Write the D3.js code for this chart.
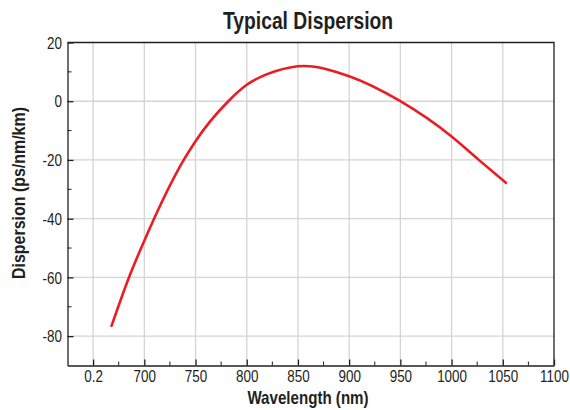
<!DOCTYPE html>
<html>
<head>
<meta charset="utf-8">
<script src="https://cdn.jsdelivr.net/npm/d3@7"></script>
<style>
  body { margin: 0; background: #fff; }
  text { font-family: "Liberation Sans", Arial, sans-serif; fill: #231f20; }
</style>
</head>
<body>
<svg id="chart"></svg>
<script>
// Typical dispersion curve
const wavelength = [668, 685, 700, 738.5, 750, 782, 800, 827, 856, 900, 950, 1000, 1026, 1053];
const dispersion = [-76.5, -60, -47.5, -20, -13.6, 0, 5.6, 10.1, 12, 8.5, 0, -12, -19.8, -27.8];

const xTicks = [650, 700, 750, 800, 850, 900, 950, 1000, 1050, 1100];
const xTickLabels = ["0.2", "700", "750", "800", "850", "900", "950", "1000", "1050", "1100"];
const xMinor = [675, 725, 775, 825, 875, 925, 975, 1025, 1075];
const yTicks = [20, 0, -20, -40, -60, -80];
const yMinor = [10, -10, -30, -50, -70];

const width = 570;
const height = 410;
const margin = { top: 42.5, right: 16, bottom: 44.5, left: 67.5 };
const NARROW = 0.84; // fake a condensed face by squeezing Liberation Sans

const svg = d3.select("#chart")
  .attr("width", width)
  .attr("height", height);

const x = d3.scaleLinear()
  .domain([625, 1100])
  .range([margin.left, width - margin.right]);

const y = d3.scaleLinear()
  .domain([-90, 20])
  .range([height - margin.bottom, margin.top]);

// --- grid ---
const grid = svg.append("g").attr("stroke", "#d4d4d4").attr("stroke-width", 1.3);
grid.selectAll("line.v")
  .data(xTicks.filter(d => d < 1100))
  .join("line")
  .attr("x1", d => x(d)).attr("x2", d => x(d))
  .attr("y1", y(20)).attr("y2", y(-90));
grid.selectAll("line.h")
  .data(yTicks.filter(d => d < 20))
  .join("line")
  .attr("x1", x(625)).attr("x2", x(1100))
  .attr("y1", d => y(d)).attr("y2", d => y(d));

// --- frame (top + right) ---
svg.append("path")
  .attr("d", `M${x(625)},${y(20)}H${x(1100)}V${y(-90)}`)
  .attr("fill", "none")
  .attr("stroke", "#231f20")
  .attr("stroke-width", 1.3);

// --- axes, ticks pointing inward ---
const xAxis = svg.append("g")
  .attr("transform", `translate(0,${y(-90)})`)
  .call(d3.axisBottom(x).tickValues(xTicks).tickSize(-6).tickSizeOuter(0)
    .tickFormat((d, i) => xTickLabels[i]));
xAxis.append("g")
  .selectAll("line")
  .data(xMinor)
  .join("line")
  .attr("x1", d => x(d)).attr("x2", d => x(d))
  .attr("y1", 0).attr("y2", -4)
  .attr("stroke", "#231f20");

const yAxis = svg.append("g")
  .attr("transform", `translate(${x(625)},0)`)
  .call(d3.axisLeft(y).tickValues(yTicks).tickSize(-6).tickSizeOuter(0)
    .tickFormat(d => String(d)));
yAxis.append("g")
  .selectAll("line")
  .data(yMinor)
  .join("line")
  .attr("x1", 0).attr("x2", 4)
  .attr("y1", d => y(d)).attr("y2", d => y(d))
  .attr("stroke", "#231f20");

svg.selectAll(".domain, .tick line")
  .attr("stroke", "#231f20")
  .attr("stroke-width", 1.3);
xAxis.attr("font-family", null).attr("font-size", null);
yAxis.attr("font-family", null).attr("font-size", null);
xAxis.selectAll(".tick text")
  .attr("dy", 0)
  .attr("y", 16.5)
  .attr("transform", `scale(${NARROW},1)`)
  .style("font-size", "16px");
yAxis.selectAll(".tick text")
  .attr("x", -5.5 / NARROW)
  .attr("dy", "0.36em")
  .attr("transform", `scale(${NARROW},1)`)
  .style("font-size", "16px");
svg.selectAll(".tick text").attr("fill", "#231f20");

// --- curve ---
// monotone spline keeps the uneven x spacing smooth without overshoot
const line = d3.line()
  .x((d, i) => x(wavelength[i]))
  .y(d => y(d))
  .curve(d3.curveMonotoneX);

svg.append("path")
  .datum(dispersion)
  .attr("d", line)
  .attr("fill", "none")
  .attr("stroke", "#ec1c24")
  .attr("stroke-width", 2.6)
  .attr("stroke-linecap", "round");

// --- titles ---
svg.append("text")
  .attr("transform", `translate(308,29) scale(${NARROW},1)`)
  .attr("text-anchor", "middle")
  .style("font-size", "23px")
  .style("font-weight", "bold")
  .text("Typical Dispersion");

svg.append("text")
  .attr("transform", `translate(308,404) scale(${NARROW},1)`)
  .attr("text-anchor", "middle")
  .style("font-size", "18px")
  .style("font-weight", "bold")
  .text("Wavelength (nm)");

svg.append("text")
  .attr("transform", `translate(24.5,193) rotate(-90) scale(${NARROW},1)`)
  .attr("text-anchor", "middle")
  .style("font-size", "19px")
  .style("font-weight", "bold")
  .text("Dispersion (ps/nm/km)");
</script>
</body>
</html>
